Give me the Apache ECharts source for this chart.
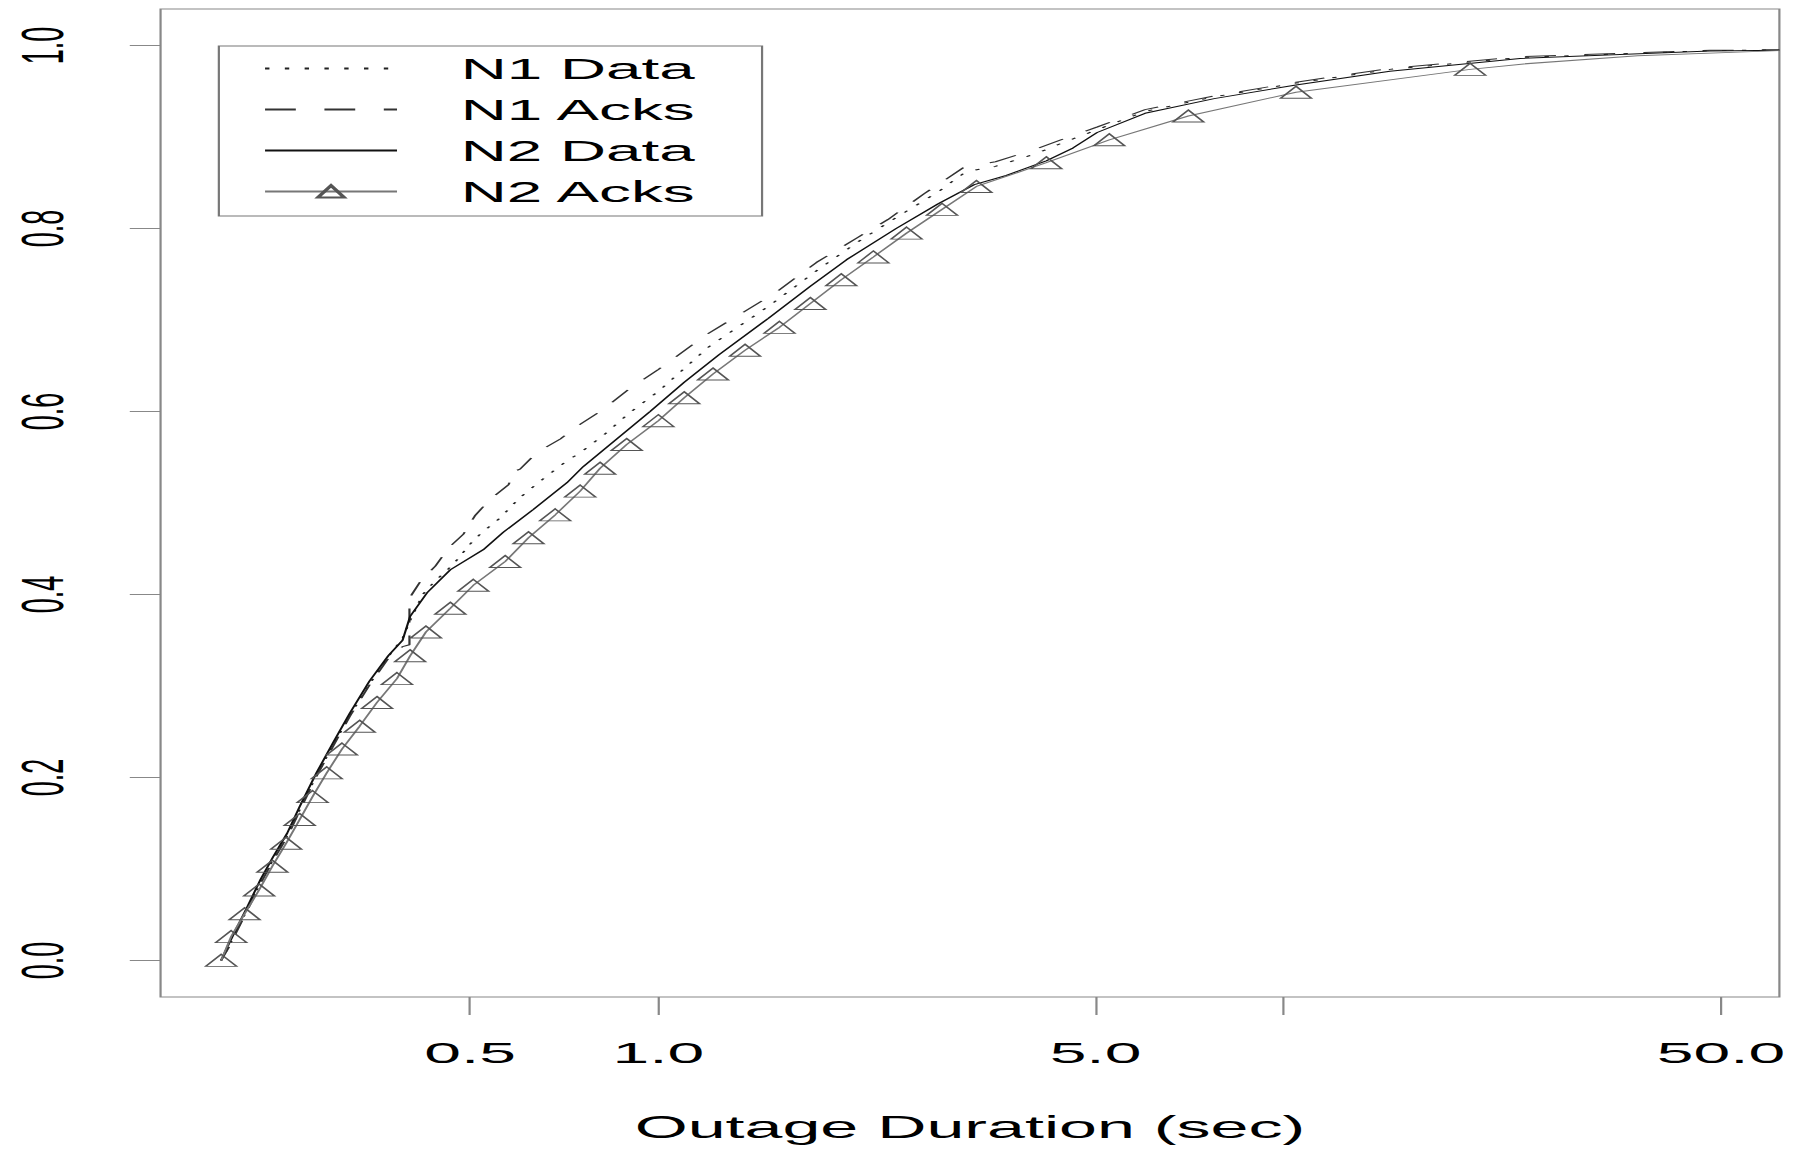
<!DOCTYPE html>
<html>
<head>
<meta charset="utf-8">
<script src="https://cdn.jsdelivr.net/npm/echarts@6/dist/echarts.min.js"></script>
<style>
html, body { margin: 0; padding: 0; background: #fff; overflow: hidden; }
#wrap { width: 1797px; height: 1149px; overflow: hidden; position: relative; background: #fff; }
#chart { width: 817px; height: 1149px; transform: scaleX(2.1995); transform-origin: 0 0; }
</style>
</head>
<body>
<div id="wrap"><div id="chart"></div></div>
<script>
// ---- data ----
const seriesNames = ['N1 Data', 'N1 Acks', 'N2 Data', 'N2 Acks'];
const xTickValues = [0.5, 1, 5, 10, 50];
const xLabelValues = [0.5, 1, 5, 50];
const yTickValues = [0, 0.2, 0.4, 0.6, 0.8, 1.0];
const xAxisTitle = 'Outage Duration (sec)';

const n1DataX = [0.2, 0.206, 0.213, 0.221, 0.232, 0.243, 0.256, 0.268, 0.285, 0.303, 0.322, 0.346, 0.37, 0.39, 0.40, 0.42, 0.437, 0.47, 0.5, 0.519, 0.559, 0.601, 0.659, 0.714, 0.75, 0.817, 0.901, 1.0, 1.2, 1.5, 1.8, 2.08, 2.4, 2.8, 3.1, 3.46, 4.02, 4.4, 5.03, 6.0, 7.74, 10.46, 14.78, 23.86, 48, 62];
const n1DataY = [0, 0.016, 0.036, 0.058, 0.087, 0.112, 0.138, 0.167, 0.204, 0.237, 0.269, 0.303, 0.332, 0.352, 0.37, 0.40, 0.413, 0.433, 0.455, 0.466, 0.484, 0.506, 0.528, 0.546, 0.555, 0.574, 0.599, 0.622, 0.67, 0.715, 0.755, 0.785, 0.812, 0.84, 0.862, 0.868, 0.882, 0.893, 0.908, 0.928, 0.944, 0.959, 0.974, 0.987, 0.9945, 0.9955];

const n1AcksX = [0.2, 0.206, 0.213, 0.221, 0.232, 0.243, 0.256, 0.268, 0.285, 0.303, 0.322, 0.346, 0.37, 0.39, 0.4, 0.4, 0.418, 0.44, 0.462, 0.488, 0.509, 0.538, 0.576, 0.59, 0.601, 0.639, 0.697, 0.75, 0.807, 0.9, 1.0, 1.2, 1.54, 1.79, 2.08, 2.33, 2.66, 3.08, 3.46, 4.02, 4.4, 5.03, 6.0, 7.74, 10.46, 14.78, 23.86, 48, 62];
const n1AcksY = [0, 0.015, 0.035, 0.057, 0.086, 0.111, 0.137, 0.166, 0.203, 0.236, 0.268, 0.302, 0.33, 0.343, 0.345, 0.396, 0.416, 0.431, 0.451, 0.466, 0.486, 0.504, 0.52, 0.535, 0.537, 0.555, 0.57, 0.586, 0.6, 0.625, 0.646, 0.685, 0.73, 0.763, 0.79, 0.81, 0.838, 0.867, 0.873, 0.887, 0.897, 0.911, 0.93, 0.945, 0.96, 0.975, 0.988, 0.9948, 0.9955];

const n2DataX = [0.2, 0.205, 0.212, 0.22, 0.231, 0.242, 0.255, 0.267, 0.284, 0.302, 0.321, 0.345, 0.37, 0.39, 0.401, 0.427, 0.465, 0.525, 0.565, 0.631, 0.714, 0.759, 0.858, 0.97, 1.1, 1.25, 1.5, 1.75, 2.0, 2.4, 2.8, 3.2, 3.6, 4.17, 4.6, 5.03, 6.0, 7.74, 10.46, 14.78, 23.86, 48, 62];
const n2DataY = [0, 0.016, 0.036, 0.058, 0.088, 0.113, 0.139, 0.168, 0.205, 0.238, 0.27, 0.305, 0.333, 0.35, 0.376, 0.402, 0.427, 0.449, 0.468, 0.493, 0.522, 0.54, 0.57, 0.6, 0.632, 0.662, 0.702, 0.737, 0.766, 0.8, 0.827, 0.848, 0.858, 0.874, 0.888, 0.905, 0.926, 0.942, 0.957, 0.972, 0.986, 0.994, 0.995];

// N2 Acks: points drawn with triangles
const n2AcksX = [0.2, 0.2075, 0.218, 0.23, 0.2415, 0.254, 0.267, 0.28, 0.295, 0.312, 0.333, 0.355, 0.382, 0.401, 0.425, 0.465, 0.506, 0.569, 0.62, 0.684, 0.75, 0.807, 0.89, 1.0, 1.1, 1.223, 1.376, 1.562, 1.75, 1.961, 2.207, 2.494, 2.842, 3.225, 4.172, 5.26, 7.037, 10.46, 19.86];
const n2AcksY = [0, 0.026, 0.051, 0.077, 0.103, 0.128, 0.154, 0.179, 0.205, 0.231, 0.256, 0.282, 0.308, 0.333, 0.359, 0.385, 0.41, 0.436, 0.462, 0.487, 0.513, 0.538, 0.564, 0.59, 0.615, 0.641, 0.667, 0.692, 0.718, 0.744, 0.769, 0.795, 0.821, 0.846, 0.872, 0.897, 0.923, 0.949, 0.974];
// N2 Acks: tail of the line without markers
const n2AcksTailX = [24.2, 36.8, 62];
const n2AcksTailY = [0.98, 0.989, 0.9945];

// ---- chart ----
const FONT = 'Liberation Sans, Arial, Helvetica, sans-serif';
const pairs = (xs, ys) => xs.map((x, i) => [x, ys[i]]);

const n2AcksData = pairs(n2AcksX, n2AcksY).concat(
  pairs(n2AcksTailX, n2AcksTailY).map(p => ({ value: p, symbol: 'none' }))
);

const chart = echarts.init(document.getElementById('chart'), null, { renderer: 'svg' });

chart.setOption({
  animation: false,
  backgroundColor: '#fff',
  grid: {
    left: 73, right: 8, top: 9, bottom: 152,
    show: true, borderColor: '#888', borderWidth: 1,
    containLabel: false, outerBoundsMode: 'none'
  },
  legend: {
    orient: 'vertical', left: 99.5, top: 46,
    data: [
      { name: seriesNames[0], itemStyle: { opacity: 0 } },
      { name: seriesNames[1], itemStyle: { opacity: 0 } },
      { name: seriesNames[2], itemStyle: { opacity: 0 } },
      { name: seriesNames[3] }
    ],
    itemWidth: 60, itemHeight: 15, itemGap: 0,
    padding: [2, 29, 4, 20],
    borderColor: '#777', borderWidth: 1,
    selectedMode: false,
    textStyle: { fontSize: 29, color: '#000', lineHeight: 41, padding: [0, 0, 0, 24], fontFamily: FONT }
  },
  xAxis: {
    type: 'log', logBase: 10, min: 0.16, max: 62,
    axisLine: { show: false, onZero: false },
    splitLine: { show: false },
    minorTick: { show: false },
    axisTick: { show: true, inside: false, length: 18, lineStyle: { color: '#888', width: 1 }, customValues: xTickValues },
    axisLabel: {
      customValues: xLabelValues,
      formatter: v => Number(v).toFixed(1),
      fontSize: 30, color: '#000', margin: 41, fontFamily: FONT
    },
    name: xAxisTitle, nameLocation: 'middle', nameGap: 115,
    nameTextStyle: { fontSize: 31, color: '#000', fontFamily: FONT }
  },
  yAxis: {
    type: 'value', min: -0.04, max: 1.04,
    axisLine: { show: false, onZero: false },
    splitLine: { show: false },
    axisTick: { show: true, inside: false, length: 14, lineStyle: { color: '#888', width: 1 }, customValues: yTickValues },
    axisLabel: {
      customValues: yTickValues,
      formatter: v => Number(v).toFixed(1),
      rotate: 90, fontSize: 27, color: '#000', margin: 40, fontFamily: FONT
    }
  },
  series: [
    {
      name: 'N1 Data', type: 'line', symbol: 'none', data: pairs(n1DataX, n1DataY),
      itemStyle: { color: '#222' },
      lineStyle: { color: '#222', width: 1, type: [2, 7] }
    },
    {
      name: 'N1 Acks', type: 'line', symbol: 'none', data: pairs(n1AcksX, n1AcksY),
      itemStyle: { color: '#333' },
      lineStyle: { color: '#333', width: 1, type: [14, 13] }
    },
    {
      name: 'N2 Data', type: 'line', symbol: 'none', data: pairs(n2DataX, n2DataY),
      itemStyle: { color: '#111' },
      lineStyle: { color: '#111', width: 1, type: 'solid' }
    },
    {
      name: 'N2 Acks', type: 'line', symbol: 'triangle', symbolSize: [14, 12],
      showSymbol: true, showAllSymbol: true, data: n2AcksData,
      lineStyle: { color: '#777', width: 1 },
      itemStyle: { color: 'rgba(255,255,255,0)', borderColor: '#555', borderWidth: 1 }
    }
  ]
});
</script>
</body>
</html>
